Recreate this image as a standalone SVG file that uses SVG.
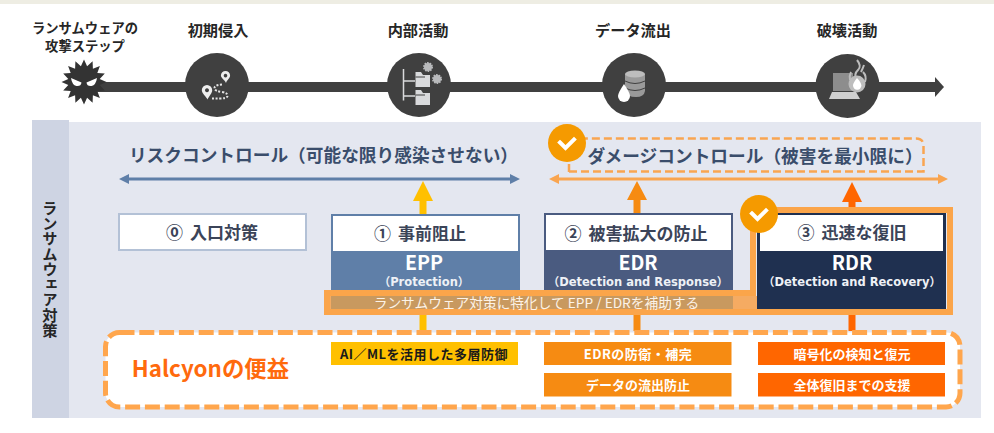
<svg xmlns="http://www.w3.org/2000/svg" width="994" height="433" viewBox="0 0 994 433">
<style>
text{font-family:"Noto Sans CJK JP","Noto Sans",sans-serif;text-anchor:middle;font-weight:700}
.step{font-size:15.2px;fill:#262626}
.title{font-size:17.7px;fill:#3a4d6b}
.head{font-size:17px;fill:#3b4458;word-spacing:3px}
.abbr{font-size:19.5px;fill:#fff}
.sub{font-family:"DejaVu Sans","Noto Sans CJK JP",sans-serif;font-size:11.5px;fill:#eef1f6;font-weight:700}
.ben{font-size:13px;fill:#fff}
.ic{fill:#404040}
.lt{fill:#d9dadc}
.dot{fill:none;stroke:#e6e6e6;stroke-width:2;stroke-dasharray:2 1.6}
.chk{fill:none;stroke:#fff;stroke-width:4;stroke-linecap:square}
</style>
<rect width="994" height="433" fill="#fff"/>
<rect width="994" height="4" fill="#eeede3"/>
<g id="panel">
<rect x="68" y="122" width="913" height="296" fill="#e4e7f0"/>
<rect x="32" y="120" width="37" height="298" fill="#ced4e3"/>
<text x="50" y="269" style="writing-mode:vertical-rl;font-size:15.300px;fill:#262626">ランサムウェア対策</text>
</g>
<g id="timeline">
<rect x="84" y="82" width="852" height="10" class="ic"/>
<path d="M935 77 L944 87 L935 97 Z" class="ic"/>
</g>
<g id="step-label">
<text x="85" y="33" class="step" style="font-size:13.300px">ランサムウェアの</text>
<text x="85" y="51" class="step" style="font-size:13.300px">攻撃ステップ</text>
<path fill="#333" transform="translate(84 82)" d="M22.500 0L15.700 3.100L20.800 8.600L13.300 8.900L15.900 15.900L8.900 13.300L8.600 20.800L3.100 15.700L0 22.500L-3.100 15.700L-8.600 20.800L-8.900 13.300L-15.900 15.900L-13.300 8.900L-20.800 8.600L-15.700 3.100L-22.500 0L-15.700 -3.100L-20.800 -8.600L-13.300 -8.900L-15.900 -15.900L-8.900 -13.300L-8.600 -20.800L-3.100 -15.700L0 -22.500L3.100 -15.700L8.600 -20.800L8.900 -13.300L15.900 -15.900L13.300 -8.900L20.800 -8.600L15.700 -3.100Z"/>
<path fill="#fff" transform="translate(84 82)" d="M-13 -4L-2.500 0.500Q-3 4.500 -7.500 4Q-12 3 -13 -4ZM13 -4L2.500 0.500Q3 4.500 7.500 4Q12 3 13 -4Z"/>
</g>
<g id="step-initial">
<text x="218" y="36" class="step">初期侵入</text>
<circle cx="217" cy="85" r="32" class="ic"/>
<path fill="#eee" fill-rule="evenodd" d="M207 85a5.200 5.200 0 0 1 5.200 5.200c0 3-3.400 6-4.700 9.300c-1.500-3.300-5.500-6-5.700-9.300a5.200 5.200 0 0 1 5.200-5.200zm0 3.300a2 2 0 1 0 .01 0z"/>
<path fill="#eee" fill-rule="evenodd" d="M225.500 71a4.600 4.600 0 0 1 4.600 4.600c0 2.500-3 4.500-4.100 7.400c-1.300-2.900-5-4.900-5.100-7.400a4.600 4.600 0 0 1 4.600-4.600zm0 2.800a1.800 1.800 0 1 0 .01 0z"/>
<path class="dot" d="M222 84.500Q214 85 214.500 88.500Q215 91 222 92Q228 93 227.500 96Q227 98.500 220 98.500H212"/>
</g>
<g id="step-lateral">
<text x="418" y="36" class="step">内部活動</text>
<circle cx="419" cy="85" r="32" class="ic"/>
<path fill="none" stroke="#d9dadc" stroke-width="1.500" d="M403.500 69V100.500M403.500 81H415M403.500 96H415"/>
<path class="lt" d="M415.500 72H421L423 75H430V87H415.500ZM415.500 90H421L423 93H430V105H415.500Z"/>
<path fill="none" stroke="#404040" d="M415.500 77H425M415.500 95H425"/>
<circle cx="428" cy="67" r="4" fill="#b9babc" stroke="#b9babc" stroke-width="2" stroke-dasharray="1.500 1"/>
<circle cx="437" cy="79" r="4" fill="#b9babc" stroke="#b9babc" stroke-width="2" stroke-dasharray="1.500 1"/>
</g>
<g id="step-exfil">
<text x="633" y="36" class="step">データ流出</text>
<circle cx="634" cy="85" r="32" class="ic"/>
<path fill="#9a9a9a" d="M625 74V91Q627 97 636 97Q644 97 645 91V74Z"/>
<ellipse cx="635" cy="74" rx="10" ry="3.500" fill="#bdbdbd"/>
<path fill="none" stroke="#404040" d="M625 81Q635 86 645 81M625 88Q635 93 645 88"/>
<path fill="#fff" d="M624 84Q618 93 618 96A6 6 0 0 0 630 96Q630 93 624 84Z"/>
</g>
<g id="step-destroy">
<text x="847" y="36" class="step">破壊活動</text>
<circle cx="847.500" cy="86" r="32" class="ic"/>
<rect x="833" y="73" width="20" height="18" fill="#8d8d8d"/>
<path fill="#d0d0d0" d="M832 92H856L860 99H829Z"/>
<circle cx="857" cy="84" r="8.500" fill="#bdbdbd"/>
<path fill="none" stroke="#bdbdbd" stroke-width="2" d="M857 60Q862 66 858 70Q854 74 856 78M864 65Q863 68 861 72M851 72Q849 76 850 80M863 72Q867 76 865 82"/>
<path fill="#fff" d="M857 78Q853 83 853 85.500A4.200 4.200 0 0 0 861.400 85.500Q861 82 857 78Z"/>
</g>
<g id="connectors">
<g fill="#5f7fa8"><path d="M123 177.500H516V180.500H123Z"/><path d="M119 179L129 174V184ZM520 179L510 174V184Z"/></g>
<g fill="#f9a550"><path d="M553 177.500H944V180.500H553Z"/><path d="M549 179L559 174V184ZM948 179L938 174V184Z"/></g>
<path fill="#ffc000" d="M423 181L433 201H426.500V214H419.500V201H413Z"/>
<path fill="#f68b12" d="M637 181L647 200H640.500V213H633.500V200H627Z"/>
<path fill="#ff6600" d="M852 182L862 202H855.500V213H848.500V202H842Z"/>
<rect x="419.500" y="315" width="7" height="16" fill="#ffc000"/>
<rect x="633.500" y="315" width="7" height="16" fill="#f68b12"/>
<rect x="848.500" y="309" width="7" height="22" fill="#ff6600"/>
</g>
<g id="node-entry">
<rect x="119" y="214" width="187" height="36" fill="#fff" stroke="#b3c1d6" stroke-width="2"/>
<text x="212" y="238.500" class="head">⓪ 入口対策</text>
</g>
<g id="node-epp">
<rect x="331" y="214" width="189" height="95" fill="#5f7fa8"/>
<rect x="333" y="216" width="185" height="35" fill="#fff"/>
<text x="420" y="240" class="head">① 事前阻止</text>
<text x="424" y="270" class="abbr">EPP</text>
<text x="424" y="286" class="sub">（Protection）</text>
</g>
<g id="node-edr">
<rect x="544" y="213" width="189" height="96" fill="#4a5b80"/>
<rect x="546" y="215" width="185" height="35" fill="#fff"/>
<text x="636" y="240" class="head">② 被害拡大の防止</text>
<text x="638" y="270" class="abbr">EDR</text>
<text x="638" y="286" class="sub">（Detection and Response）</text>
</g>
<g id="node-rdr">
<rect x="757" y="213" width="189" height="96" fill="#1f3050"/>
<rect x="760" y="215" width="183" height="36" fill="#fff"/>
<text x="852" y="239" class="head">③ 迅速な復旧</text>
<text x="852" y="270" class="abbr">RDR</text>
<text x="852" y="286" class="sub">（Detection and Recovery）</text>
</g>
<g id="band">
<rect x="330" y="296" width="427" height="13" fill="#f5ab62"/>
<rect x="331" y="296" width="402" height="13" fill="#c8995f"/>
<path fill="none" stroke="#fba54a" stroke-width="6" d="M327 293H753V210H950V312H327Z"/>
<text x="536.500" y="308" style="font-size:13.700px;fill:#fdf3e7;font-weight:400">ランサムウェア対策に特化して EPP / EDRを補助する</text>
</g>
<g id="node-damage-title">
<path fill="none" stroke="#f9a550" stroke-width="2.500" stroke-dasharray="8 4" d="M569 172V162M569 171.500H923.500V146Q923.500 138.500 916 138.500H585"/>
<text x="755" y="163" class="title">ダメージコントロール（被害を最小限に）</text>
<circle cx="567" cy="143" r="19" fill="#f59a00"/>
<path class="chk" d="M560 142.500L565.500 148L574 139.500"/>
</g>
<g id="node-risk-title">
<text x="323.500" y="162" class="title">リスクコントロール（可能な限り感染させない）</text>
</g>
<g id="node-benefit">
<rect x="105.500" y="332.500" width="854.500" height="74.500" rx="14" fill="#fff" stroke="#ffa64d" stroke-width="5" stroke-dasharray="15 4.800"/>
<text x="210.500" y="377" style="font-size:22.400px;fill:#ff6a0d">Halcyonの便益</text>
<rect x="331" y="342" width="187" height="23" fill="#ffc000"/>
<text x="424" y="358.500" class="ben" style="fill:#1a1a1a;letter-spacing:.5px">AI／MLを活用した多層防御</text>
<rect x="544" y="342" width="187.500" height="23" fill="#f68b12"/>
<text x="638" y="358.500" class="ben" style="letter-spacing:.5px">EDRの防衛・補完</text>
<rect x="544" y="373" width="187.500" height="23.500" fill="#f68b12"/>
<text x="638" y="390" class="ben">データの流出防止</text>
<rect x="758" y="342" width="187" height="23" fill="#ff6600"/>
<text x="852" y="358.500" class="ben">暗号化の検知と復元</text>
<rect x="758" y="373" width="187" height="23.500" fill="#ff6600"/>
<text x="852" y="390" class="ben">全体復旧までの支援</text>
</g>
<g id="badge-rdr">
<circle cx="759" cy="214" r="19" fill="#f59a00"/>
<path class="chk" d="M752 213.500L757.500 219L766 210.500"/>
</g>
</svg>
